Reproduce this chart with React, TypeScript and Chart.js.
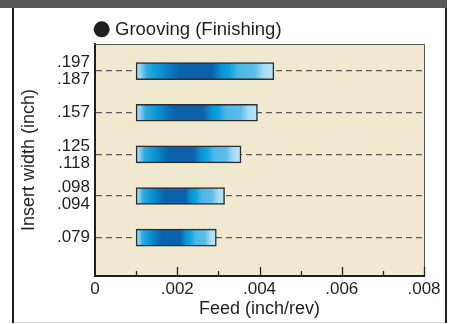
import React, { useEffect, useRef } from "react";
import { Chart, registerables } from "chart.js";

Chart.register(...registerables);

// ---- data ----
const rowPositions = [1, 2, 3, 4, 5];
const insertWidthLabels: string[][] = [
  [".079"],
  [".098", ".094"],
  [".125", ".118"],
  [".157"],
  [".197", ".187"],
];
const feedStart = [0.001, 0.001, 0.001, 0.001, 0.001];
const feedEnd = [0.00295, 0.00315, 0.00355, 0.00395, 0.00435];
const xTickValues = [0, 0.002, 0.004, 0.006, 0.008];
const xTickLabels = ["0", ".002", ".004", ".006", ".008"];
const xMinorTickValues = [0.001, 0.003, 0.005, 0.007];
const chartTitle = "Grooving (Finishing)";
const xAxisTitle = "Feed (inch/rev)";
const yAxisTitle = "Insert width (inch)";

const FONT = "'Liberation Sans', Arial, Helvetica, sans-serif";
const INK = "#231f20";

const gradStops: [number, string][] = [
  [0, "#c3e8f9"],
  [0.03, "#8fd3f2"],
  [0.08, "#2eaae1"],
  [0.16, "#0b98d6"],
  [0.26, "#0676bd"],
  [0.32, "#0b62aa"],
  [0.55, "#0b62aa"],
  [0.62, "#0a93d3"],
  [0.68, "#0aa5e0"],
  [0.74, "#4cb7e6"],
  [0.86, "#5cbde8"],
  [0.93, "#a7ddf6"],
  [1, "#b9e5f9"],
];

const framePlugin = {
  id: "framePlugin",
  beforeDraw(chart: any) {
    const { ctx, chartArea: a } = chart;
    ctx.save();
    ctx.fillStyle = "#f0e9cf";
    ctx.fillRect(a.left, a.top, a.right - a.left, a.bottom - a.top);
    ctx.restore();
  },
  afterDraw(chart: any) {
    const { ctx, chartArea: a } = chart;
    const xs = chart.scales.x;
    ctx.save();
    ctx.strokeStyle = "#555555";
    ctx.lineWidth = 1;
    ctx.beginPath();
    ctx.moveTo(a.left, a.top + 0.5);
    ctx.lineTo(a.right + 0.5, a.top + 0.5);
    ctx.lineTo(a.right + 0.5, a.bottom);
    ctx.stroke();
    ctx.strokeStyle = INK;
    ctx.lineWidth = 1.3;
    const drawTick = (v: number, len: number) => {
      const px = Math.round(xs.getPixelForValue(v)) + 0.5;
      ctx.beginPath();
      ctx.moveTo(px, a.bottom);
      ctx.lineTo(px, a.bottom - len);
      ctx.stroke();
    };
    xTickValues.slice(1).forEach((v) => drawTick(v, 9));
    xMinorTickValues.forEach((v) => drawTick(v, 5));
    ctx.fillStyle = INK;
    ctx.beginPath();
    ctx.arc(101.7, 29.3, 8, 0, Math.PI * 2);
    ctx.fill();
    ctx.font = `18.5px ${FONT}`;
    ctx.textBaseline = "alphabetic";
    ctx.textAlign = "left";
    ctx.fillText(chartTitle, 115, 35);
    ctx.restore();
  },
};

export default function App() {
  const ref = useRef<HTMLCanvasElement | null>(null);

  useEffect(() => {
    if (!ref.current) return;
    const data = rowPositions.map((y, i) => ({ y, x: [feedStart[i], feedEnd[i]] }));
    const chart = new Chart(ref.current, {
      type: "bar",
      data: {
        datasets: [
          {
            data: data as any,
            barThickness: 17,
            borderColor: "#2b2b2b",
            borderWidth: 1.5,
            borderSkipped: false,
            backgroundColor: (c: any) => {
              const ch = c.chart;
              const xs = ch.scales && ch.scales.x;
              const i = c.dataIndex;
              if (!xs || c.type !== "data" || i == null) return "#0b62aa";
              const x0 = xs.getPixelForValue(feedStart[i]);
              const x1 = xs.getPixelForValue(feedEnd[i]);
              if (!isFinite(x0) || !isFinite(x1) || x1 === x0) return "#0b62aa";
              const g = ch.ctx.createLinearGradient(x0, 0, x1, 0);
              gradStops.forEach(([o, col]) => g.addColorStop(o, col));
              return g;
            },
          },
        ],
      },
      options: {
        indexAxis: "y",
        animation: false,
        responsive: false,
        devicePixelRatio: 1,
        layout: { padding: { left: 12, top: 44, right: 31, bottom: 0 } },
        plugins: { legend: { display: false }, tooltip: { enabled: false } },
        scales: {
          x: {
            type: "linear",
            position: "bottom",
            min: 0,
            max: 0.008,
            offset: false,
            afterBuildTicks: (s: any) => {
              s.ticks = xTickValues.map((v) => ({ value: v }));
            },
            afterFit: (s: any) => {
              s.height = 48;
            },
            ticks: {
              autoSkip: false,
              maxRotation: 0,
              padding: 3,
              color: INK,
              font: { family: FONT, size: 17 },
              callback: (v: any) => {
                const i = xTickValues.indexOf(Number(v));
                return i >= 0 ? xTickLabels[i] : "";
              },
            },
            grid: { display: false, drawTicks: false, offset: false },
            border: { display: true, color: INK, width: 2 },
            title: {
              display: true,
              text: xAxisTitle,
              color: INK,
              font: { family: FONT, size: 18 },
              padding: { top: 0, bottom: 4 },
            },
          },
          y: {
            type: "linear",
            position: "left",
            min: 0.08,
            max: 5.65,
            offset: false,
            afterBuildTicks: (s: any) => {
              s.ticks = rowPositions.map((v) => ({ value: v }));
            },
            afterFit: (s: any) => {
              s.width = 83;
            },
            ticks: {
              autoSkip: false,
              padding: 5,
              color: INK,
              font: { family: FONT, size: 17, lineHeight: 1.0 },
              callback: (v: any) => {
                const i = rowPositions.indexOf(Number(v));
                return i >= 0 ? insertWidthLabels[i] : "";
              },
            },
            grid: { display: true, offset: false, drawTicks: false, color: "#5a5a5a", lineWidth: 1.3 },
            border: { display: true, color: INK, width: 2, dash: [6, 4] },
            title: {
              display: true,
              text: yAxisTitle,
              color: INK,
              font: { family: FONT, size: 18 },
              padding: { top: 6, bottom: 0 },
            },
          },
        },
      },
      plugins: [framePlugin],
    });
    return () => chart.destroy();
  }, []);

  return (
    <div style={{ position: "absolute", left: 0, top: 0, width: 455, height: 324, background: "#ffffff", overflow: "hidden" }}>
      <div style={{ position: "absolute", left: 0, top: 0, width: 447, height: 8, background: "#58585a" }} />
      <div style={{ position: "absolute", left: 12, top: 8, width: 2, height: 315, background: INK }} />
      <div style={{ position: "absolute", left: 445, top: 8, width: 2, height: 315, background: INK }} />
      <div style={{ position: "absolute", left: 14, top: 322, width: 431, height: 1, background: "#dcdcdc" }} />
      <canvas ref={ref} width={455} height={324} style={{ position: "absolute", left: 0, top: 0, width: 455, height: 324 }} />
    </div>
  );
}
